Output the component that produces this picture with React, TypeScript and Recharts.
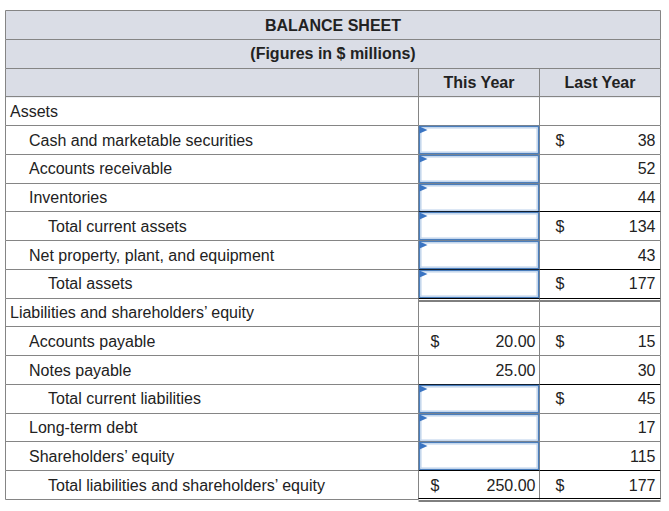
import { Bar, BarChart, XAxis, YAxis } from "recharts";

const title = "BALANCE SHEET";
const subtitle = "(Figures in $ millions)";
const columnHeaders = ["This Year", "Last Year"];

const rowLabels = [
  "Assets",
  "Cash and marketable securities",
  "Accounts receivable",
  "Inventories",
  "Total current assets",
  "Net property, plant, and equipment",
  "Total assets",
  "Liabilities and shareholders’ equity",
  "Accounts payable",
  "Notes payable",
  "Total current liabilities",
  "Long-term debt",
  "Shareholders’ equity",
  "Total liabilities and shareholders’ equity",
];
const rowIndent = [0, 1, 1, 1, 2, 1, 2, 0, 1, 1, 2, 1, 1, 2];
const thisYearValues = [null, null, null, null, null, null, null, null, 20, 25, null, null, null, 250];
const thisYearInput = [false, true, true, true, true, true, true, false, false, false, true, true, true, false];
const thisYearDollar = [false, false, false, false, false, false, false, false, true, false, false, false, false, true];
const lastYearValues = [null, 38, 52, 44, 134, 43, 177, null, 15, 30, 45, 17, 115, 177];
const lastYearDollar = [false, true, false, false, true, false, true, false, true, false, true, false, false, true];
const totalRows = [4, 6, 10, 13];
const doubleUnderRows = [6, 13];

type Row = {
  key: string;
  kind: "title" | "subtitle" | "columns" | "body";
  idx: number;
  span: number;
};

const rows: Row[] = [
  { key: "title", kind: "title", idx: -1, span: 1 },
  { key: "subtitle", kind: "subtitle", idx: -1, span: 1 },
  { key: "columns", kind: "columns", idx: -1, span: 1 },
  ...rowLabels.map((label, i) => ({ key: label, kind: "body" as const, idx: i, span: 1 })),
];

const GRID = "#858585";
const HEAD_BG = "#dadde6";
const TEXT = "#222";
const BOX = "#4a7ebd";
const FONT = "'Liberation Sans', Arial, sans-serif";
const FS = 16;
const LABEL_W = 413;
const VAL_W = 121;

function fmt(v: number, decimals: boolean) {
  return decimals ? v.toFixed(2) : String(v);
}

function RowShape(props: any) {
  const { x, y, width, height, payload } = props;
  const row: Row = payload;
  const top = Math.round(y) + 0.5;
  const bottom = Math.round(y + height) + 0.5;
  const left = Math.round(x) + 0.5;
  const right = Math.round(x + width) - 0.5;
  const c1 = left + LABEL_W;
  const c2 = c1 + VAL_W;
  const mid = y + height / 2 + 6;
  const isLast = row.idx === rowLabels.length - 1;

  if (row.kind !== "body") {
    const hasCols = row.kind === "columns";
    return (
      <g>
        <rect x={left} y={top} width={right - left} height={bottom - top} fill={HEAD_BG} />
        <line x1={left} x2={right} y1={top} y2={top} stroke={GRID} />
        <line x1={left} x2={left} y1={top} y2={bottom} stroke={GRID} />
        <line x1={right} x2={right} y1={top} y2={bottom} stroke={GRID} />
        {hasCols ? (
          <>
            <line x1={c1} x2={c1} y1={top} y2={bottom} stroke={GRID} />
            <line x1={c2} x2={c2} y1={top} y2={bottom} stroke={GRID} />
            <text x={(c1 + c2) / 2} y={mid} textAnchor="middle" fontFamily={FONT} fontSize={FS} fontWeight="bold" fill={TEXT}>
              {columnHeaders[0]}
            </text>
            <text x={(c2 + right) / 2} y={mid} textAnchor="middle" fontFamily={FONT} fontSize={FS} fontWeight="bold" fill={TEXT}>
              {columnHeaders[1]}
            </text>
          </>
        ) : (
          <text x={(left + right) / 2} y={mid} textAnchor="middle" fontFamily={FONT} fontSize={FS} fontWeight="bold" fill={TEXT}>
            {row.kind === "title" ? title : subtitle}
          </text>
        )}
      </g>
    );
  }

  const i = row.idx;
  const blackTop = totalRows.includes(i);
  const doubleAbove = doubleUnderRows.includes(i - 1);
  const ty = thisYearValues[i];
  const ly = lastYearValues[i];

  return (
    <g>
      <line x1={left} x2={c1} y1={top} y2={top} stroke={GRID} />
      <line x1={c1} x2={right} y1={top} y2={top} stroke={blackTop || doubleAbove ? "#000" : GRID} />
      {doubleAbove && <line x1={c1} x2={right} y1={top + 2.5} y2={top + 2.5} stroke="#000" />}
      <line x1={left} x2={left} y1={top} y2={bottom} stroke={GRID} />
      <line x1={right} x2={right} y1={top} y2={bottom} stroke={GRID} />
      <line x1={c1} x2={c1} y1={top} y2={bottom} stroke={GRID} />
      <line x1={c2} x2={c2} y1={top} y2={bottom} stroke={GRID} />
      {isLast && (
        <>
          <line x1={left} x2={c1} y1={bottom} y2={bottom} stroke={GRID} />
          <line x1={c1} x2={right} y1={bottom - 1} y2={bottom - 1} stroke="#000" />
          <line x1={c1} x2={right} y1={bottom + 1.5} y2={bottom + 1.5} stroke="#000" />
        </>
      )}
      <text x={left + 4.5 + rowIndent[i] * 19} y={mid} fontFamily={FONT} fontSize={FS} fill={TEXT}>
        {rowLabels[i]}
      </text>
      {thisYearInput[i] && (
        <g>
          <rect x={c1 + 1} y={top + 1} width={VAL_W - 2} height={bottom - top - 2} fill="#fff" stroke={BOX} strokeWidth={1.5} />
          <rect x={c1 + 2.5} y={top + 2.5} width={VAL_W - 5} height={bottom - top - 5} fill="none" stroke="#b9cfea" strokeWidth={1} />
          <polygon points={`${c1 + 1},${top + 1} ${c1 + 9},${top + 4.5} ${c1 + 1},${top + 8}`} fill="#3a74c2" />
        </g>
      )}
      {thisYearDollar[i] && (
        <text x={c1 + 12} y={mid} fontFamily={FONT} fontSize={FS} fill={TEXT}>
          $
        </text>
      )}
      {ty != null && (
        <text x={c2 - 4} y={mid} textAnchor="end" fontFamily={FONT} fontSize={FS} fill={TEXT}>
          {fmt(ty, true)}
        </text>
      )}
      {lastYearDollar[i] && (
        <text x={c2 + 16} y={mid} fontFamily={FONT} fontSize={FS} fill={TEXT}>
          $
        </text>
      )}
      {ly != null && (
        <text x={right - 5} y={mid} textAnchor="end" fontFamily={FONT} fontSize={FS} fill={TEXT}>
          {fmt(ly, false)}
        </text>
      )}
    </g>
  );
}

export default function App() {
  return (
    <div style={{ position: "absolute", left: 0, top: 0, width: 669, height: 511, background: "#fff" }}>
      <BarChart
        width={669}
        height={511}
        data={rows}
        layout="vertical"
        margin={{ top: 10, right: 8, bottom: 12, left: 5 }}
        barCategoryGap={0}
        barGap={0}
      >
        <XAxis type="number" domain={[0, 1]} hide />
        <YAxis type="category" dataKey="key" hide />
        <Bar dataKey="span" isAnimationActive={false} shape={(p: any) => <RowShape {...p} />} />
      </BarChart>
    </div>
  );
}
